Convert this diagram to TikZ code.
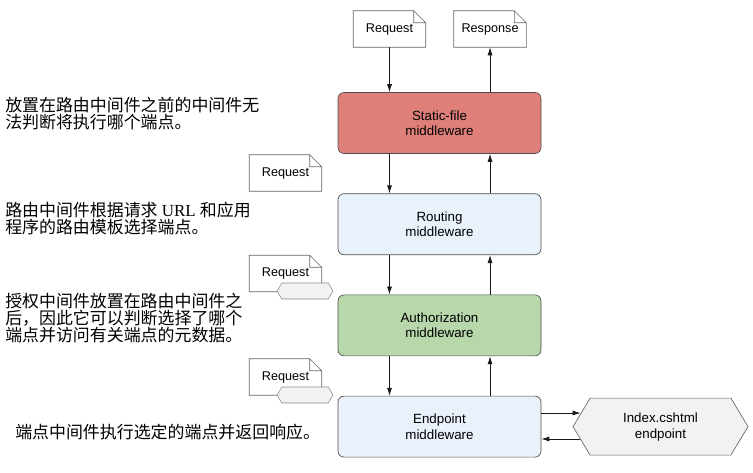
\documentclass[tikz,border=0pt]{standalone}
\usepackage{fontspec}
\setmainfont{Liberation Serif}
\setsansfont{Liberation Sans}
\newfontfamily\cjk{Noto Sans CJK SC}
\usetikzlibrary{arrows.meta,shapes.symbols}
\definecolor{staticred}{RGB}{222,128,121}
\definecolor{authgreen}{RGB}{184,215,170}
\definecolor{paleblue}{RGB}{233,241,251}
\definecolor{tagfill}{RGB}{240,243,240}
\definecolor{pagefill}{RGB}{242,242,242}
\begin{document}
\begin{tikzpicture}[x=0.75pt, y=-0.75pt, node distance=75.9pt, >={Latex[length=6pt,width=3.8pt]}]
\tikzstyle{box}=[rectangle,rounded corners=4.5pt,draw=black!70,line width=0.5pt,minimum width=152.25pt,minimum height=45.75pt,font=\sffamily\fontsize{10}{11.5}\selectfont,align=center]
\tikzstyle{doc}=[rectangle,minimum width=54pt,minimum height=27pt,inner sep=0pt,font=\sffamily\fontsize{9.5}{11}\selectfont]
\tikzstyle{fold}=[draw=black!60,line width=0.45pt]
\tikzstyle{tag}=[signal,signal to=east and west,signal pointer angle=118,draw=black!45,fill=tagfill,thin,minimum width=42pt,minimum height=12pt,inner sep=0pt]
\tikzstyle{page}=[signal,signal to=east and west,signal pointer angle=118,draw=black!60,fill=pagefill,line width=0.5pt,minimum width=131.25pt,minimum height=42.75pt,inner sep=0pt,font=\sffamily\fontsize{10}{12}\selectfont,align=center]
\tikzstyle{note}=[anchor=west,align=left,inner sep=0pt,font=\fontsize{12.7}{12.75}\selectfont]
\tikzstyle{flow}=[->,line width=0.6pt,black!90]
\useasboundingbox (0,0) rectangle (753,472);

% middleware chain
\node[box,fill=staticred](static) at (439.5,123) {Static-file\\middleware};
\node[box,fill=paleblue](routing)[below of=static] {Routing\\middleware};
\node[box,fill=authgreen](authz)[below of=routing] {Authorization\\middleware};
\node[box,fill=paleblue](endpoint)[below of=authz] {Endpoint\\middleware};
\node[page](page)[right of=endpoint, node distance=165.75pt] {Index.cshtml\\endpoint};

% request / response pages
\node[doc](req)[above of=static, node distance=70.5pt, xshift=-37.5pt] {Request};
\node[doc](resp)[above of=static, node distance=70.5pt, xshift=37.9pt] {Response};
\node[doc](req1) at (285.5,173) {Request};
\node[doc](req2) at (285.5,273.5) {Request};
\node[doc](req3) at (285.5,377) {Request};
\foreach \d in {req,resp,req1,req2,req3}
  \draw[fold] (\d.south west) -- (\d.north west) -- ([xshift=-9pt]\d.north east) -- ([yshift=-9pt]\d.north east) -- (\d.south east) -- cycle
    ([xshift=-9pt]\d.north east) |- ([yshift=-9pt]\d.north east);
\node[tag](tag2) at (305,291) {};
\node[tag](tag3) at (305,395) {};

% flow
\draw[flow] (req.south) -- (req.south |- static.north);
\draw[flow] (resp.south |- static.north) -- (resp.south);
\draw[flow] (req.south |- static.south) -- (req.south |- routing.north);
\draw[flow] (resp.south |- routing.north) -- (resp.south |- static.south);
\draw[flow] (req.south |- routing.south) -- (req.south |- authz.north);
\draw[flow] (resp.south |- authz.north) -- (resp.south |- routing.south);
\draw[flow] (req.south |- authz.south) -- (req.south |- endpoint.north);
\draw[flow] (resp.south |- endpoint.north) -- (resp.south |- authz.south);
\draw[flow] ([yshift=10.2pt]endpoint.east) -- ([shift={(6pt,10.2pt)}]page.west);
\draw[flow] ([shift={(5.6pt,-9.3pt)}]page.west) -- ([yshift=-9.3pt]endpoint.east);

% notes
\node[note](note1) at (5,113.5) {\cjk 放置在路由中间件之前的中间件无\\\cjk 法判断将执行哪个端点。};
\node[note](note2) at (5,219) {{\cjk 路由中间件根据请求} URL {\cjk 和应用}\\\cjk 程序的路由模板选择端点。};
\node[note](note3) at (5,318) {\cjk 授权中间件放置在路由中间件之\\\cjk 后，因此它可以判断选择了哪个\\\cjk 端点并访问有关端点的元数据。};
\node[note](note4) at (15,432) {\cjk 端点中间件执行选定的端点并返回响应。};
\end{tikzpicture}
\end{document}
